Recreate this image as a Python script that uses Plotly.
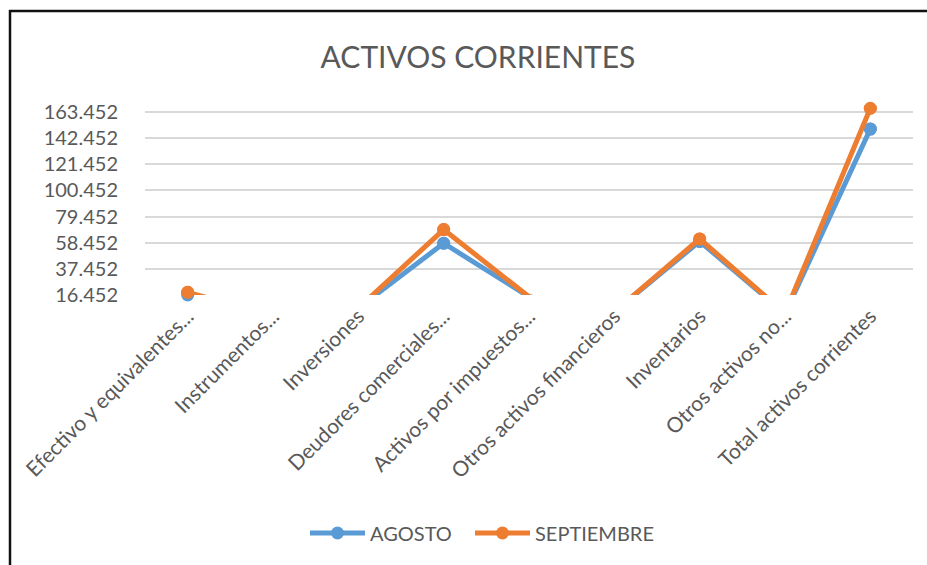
import numpy as np
import plotly.graph_objects as go

categories = [
    "Efectivo y equivalentes...",
    "Instrumentos...",
    "Inversiones",
    "Deudores comerciales...",
    "Activos por impuestos...",
    "Otros activos financieros",
    "Inventarios",
    "Otros activos no...",
    "Total activos corrientes",
]
agosto = [16452, 0, 5900, 58000, 15000, 3000, 59500, 1500, 149700]
septiembre = [18600, 0, 5900, 69000, 15000, 3000, 61500, 1800, 166400]

y_min = 16452
y_max = 169000
y_step = 21000

W, H = 927, 565
L, R, T, B = 145, 14, 105, 270
pw, ph = W - L - R, H - T - B

BLUE = "#5B9BD5"
ORANGE = "#ED7D31"
TXT = "#595959"
FONT = "Lato, 'Open Sans', sans-serif"

fig = go.Figure()
series = [("AGOSTO", agosto, BLUE, "legend"), ("SEPTIEMBRE", septiembre, ORANGE, "legend2")]
for name, vals, col, leg in series:
    vals = np.array(vals, dtype=float)
    fig.add_trace(go.Scatter(
        x=categories, y=vals, name=name, mode="lines+markers",
        line=dict(color=col, width=5),
        marker=dict(color=col, size=13),
        cliponaxis=True, legend=leg,
    ))
    vis = vals >= y_min
    fig.add_trace(go.Scatter(
        x=[c for c, v in zip(categories, vis) if v], y=vals[vis],
        mode="markers", marker=dict(color=col, size=13),
        cliponaxis=False, showlegend=False, hoverinfo="skip",
    ))

def px_to_paper_x(px):
    return (px - L) / pw

def px_to_paper_y(py):
    return (H - B - py) / ph

# chart border (left and top edges visible)
fig.add_shape(type="line", xref="paper", yref="paper",
              x0=px_to_paper_x(10), x1=px_to_paper_x(10),
              y0=px_to_paper_y(H + 5), y1=px_to_paper_y(10),
              line=dict(color="#111111", width=2.5))
fig.add_shape(type="line", xref="paper", yref="paper",
              x0=px_to_paper_x(9), x1=px_to_paper_x(W + 5),
              y0=px_to_paper_y(11), y1=px_to_paper_y(11),
              line=dict(color="#111111", width=2.5))

legend_common = dict(orientation="h", y=px_to_paper_y(533), yanchor="middle",
                     xanchor="left", font=dict(size=20, color=TXT),
                     itemwidth=55, bgcolor="rgba(0,0,0,0)")

fig.update_layout(
    width=W, height=H,
    margin=dict(l=L, r=R, t=T, b=B),
    paper_bgcolor="white", plot_bgcolor="white",
    font=dict(family=FONT, color=TXT, size=20),
    title=dict(text="ACTIVOS CORRIENTES", x=478 / W, xanchor="center",
               xref="container", yref="container",
               y=1 - 57 / H, yanchor="middle",
               font=dict(size=30, color=TXT, family=FONT)),
    showlegend=True,
    legend=dict(x=px_to_paper_x(305), **legend_common),
    legend2=dict(x=px_to_paper_x(470), **legend_common),
    hovermode=False,
    separators=",.",
)
fig.update_xaxes(
    type="category", range=[-0.5, len(categories) - 0.5],
    tickangle=-45, showgrid=False, showline=False, ticks="",
    ticklabelstandoff=4,
    tickfont=dict(size=21, color=TXT, family=FONT), zeroline=False,
)
fig.update_yaxes(
    range=[y_min, y_max], tick0=y_min, dtick=y_step,
    tickformat=",d",
    showgrid=True, gridcolor="#D9D9D9", gridwidth=1.5,
    zeroline=False, showline=False, ticks="",
    ticklabelstandoff=26,
    tickfont=dict(size=20, color=TXT, family=FONT),
)
fig.write_html(
    "out.html", config={"displayModeBar": False},
    post_script=(
        "document.body.style.margin='0';"
        "document.body.style.overflow='hidden';"
        "document.documentElement.style.overflow='hidden';"
    ),
)
